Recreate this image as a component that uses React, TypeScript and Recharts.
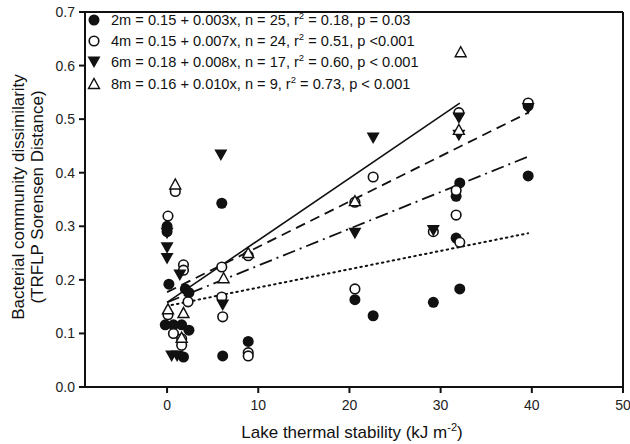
import {
  ScatterChart,
  Scatter,
  XAxis,
  YAxis,
  ReferenceLine
} from 'recharts';

// measured points, one array per sampling depth
const depth2m = [
  { x: 6.0, y: 0.343 }, { x: 0, y: 0.3 }, { x: 0, y: 0.29 }, { x: 0.2, y: 0.192 },
  { x: 2.0, y: 0.183 }, { x: 2.4, y: 0.176 }, { x: -0.2, y: 0.116 }, { x: 0.7, y: 0.116 },
  { x: 1.6, y: 0.116 }, { x: 2.4, y: 0.106 }, { x: 1.8, y: 0.056 }, { x: 6.1, y: 0.058 },
  { x: 8.9, y: 0.085 }, { x: 20.6, y: 0.163 }, { x: 22.6, y: 0.133 }, { x: 29.2, y: 0.158 },
  { x: 32.1, y: 0.381 }, { x: 31.7, y: 0.356 }, { x: 31.7, y: 0.278 }, { x: 32.1, y: 0.183 },
  { x: 39.6, y: 0.394 }, { x: 39.6, y: 0.525 }
];
const depth4m = [
  { x: 0.9, y: 0.365 }, { x: 0.1, y: 0.319 }, { x: 1.8, y: 0.228 }, { x: 1.8, y: 0.218 },
  { x: 2.3, y: 0.159 }, { x: 6.0, y: 0.224 }, { x: 8.9, y: 0.245 }, { x: 6.0, y: 0.168 },
  { x: 6.1, y: 0.131 }, { x: 8.9, y: 0.064 }, { x: 0.1, y: 0.135 }, { x: 0.7, y: 0.1 },
  { x: 1.6, y: 0.09 }, { x: 1.6, y: 0.078 }, { x: 22.6, y: 0.392 }, { x: 20.6, y: 0.345 },
  { x: 20.6, y: 0.183 }, { x: 29.2, y: 0.29 }, { x: 32.0, y: 0.512 }, { x: 31.7, y: 0.367 },
  { x: 31.7, y: 0.321 }, { x: 32.1, y: 0.27 }, { x: 39.6, y: 0.53 }, { x: 8.9, y: 0.058 }
];
const depth6m = [
  { x: 0, y: 0.287 }, { x: 0, y: 0.26 }, { x: 0, y: 0.24 }, { x: 1.4, y: 0.209 },
  { x: 6.1, y: 0.153 }, { x: 0.5, y: 0.058 }, { x: 1.1, y: 0.058 }, { x: 22.6, y: 0.465 },
  { x: 20.6, y: 0.287 }, { x: 29.2, y: 0.292 }, { x: 32.0, y: 0.502 }, { x: 32.0, y: 0.47 },
  { x: 39.6, y: 0.52 }, { x: 5.9, y: 0.433 }
];
const depth8m = [
  { x: 0.9, y: 0.378 }, { x: 6.2, y: 0.203 }, { x: 8.9, y: 0.25 }, { x: 0.1, y: 0.145 },
  { x: 1.8, y: 0.138 }, { x: 1.6, y: 0.092 }, { x: 20.6, y: 0.347 }, { x: 32.0, y: 0.48 },
  { x: 32.2, y: 0.625 }
];

// regression line end points
const fit2m = [{ x: 0.5, y: 0.153 }, { x: 39.6, y: 0.287 }];
const fit4m = [{ x: 0, y: 0.158 }, { x: 39.6, y: 0.43 }];
const fit6m = [{ x: 0, y: 0.177 }, { x: 39.6, y: 0.512 }];
const fit8m = [{ x: 0, y: 0.158 }, { x: 32.1, y: 0.53 }];

const xTicks = [0, 10, 20, 30, 40, 50];
const yTicks = [0, 0.1, 0.2, 0.3, 0.4, 0.5, 0.6, 0.7];

const legendDepths = ['2m', '4m', '6m', '8m'];
const legendEquations = ['0.15 + 0.003x', '0.15 + 0.007x', '0.18 + 0.008x', '0.16 + 0.010x'];
const legendN = ['25', '24', '17', '9'];
const legendR2 = ['0.18', '0.51', '0.60', '0.73'];
const legendP = ['p = 0.03', 'p <0.001', 'p < 0.001', 'p < 0.001'];

const FONT = '"Liberation Sans", Arial, sans-serif';
const INK = '#111';

const FilledCircle = (p: any) => <circle cx={p.cx} cy={p.cy} r={5.5} fill={INK} />;
const OpenCircle = (p: any) => (
  <circle cx={p.cx} cy={p.cy} r={4.8} fill="#fff" stroke={INK} strokeWidth={1.6} />
);
const DownTriangle = (p: any) => (
  <path d={`M${p.cx - 6.5},${p.cy - 5.5}L${p.cx + 6.5},${p.cy - 5.5}L${p.cx},${p.cy + 6}Z`} fill={INK} />
);
const UpTriangle = (p: any) => (
  <path
    d={`M${p.cx - 5.5},${p.cy + 4.5}L${p.cx + 5.5},${p.cy + 4.5}L${p.cx},${p.cy - 5.5}Z`}
    fill="#fff"
    stroke={INK}
    strokeWidth={1.4}
  />
);
const NoDot = () => <g />;

const symbols = [FilledCircle, OpenCircle, DownTriangle, UpTriangle];

function Legend() {
  return (
    <div style={{ position: 'absolute', left: 84, top: 9, fontFamily: FONT, fontSize: 14.6, color: INK }}>
      {legendDepths.map((d, i) => {
        const Sym = symbols[i];
        return (
          <div key={d} style={{ display: 'flex', alignItems: 'center', height: 21.4, whiteSpace: 'nowrap' }}>
            <svg width={22} height={16} style={{ marginRight: 5 }}>
              <Sym cx={10} cy={8} />
            </svg>
            <span>
              {d} = {legendEquations[i]}, n = {legendN[i]}, r
              <sup style={{ fontSize: 9.5, verticalAlign: 6, lineHeight: 0 }}>2</sup> = {legendR2[i]}, {legendP[i]}
            </span>
          </div>
        );
      })}
    </div>
  );
}

const XTitle = () => (
  <text x={352} y={438} textAnchor="middle" fontFamily={FONT} fontSize={17} fill={INK}>
    Lake thermal stability (kJ m
    <tspan dy={-7} fontSize={11}>-2</tspan>
    <tspan dy={7}>)</tspan>
  </text>
);

const YTitle = () => (
  <g fontFamily={FONT} fontSize={17} fill={INK}>
    <text transform="translate(24,197) rotate(-90)" textAnchor="middle">
      Bacterial community dissimilarity
    </text>
    <text transform="translate(43,197) rotate(-90)" textAnchor="middle">
      (TRFLP Sorensen Distance)
    </text>
  </g>
);

export default function App() {
  const tickStyle = { fontFamily: FONT, fontSize: 14, fill: '#222' };
  return (
    <div style={{ position: 'absolute', left: 0, top: 0, width: 630, height: 444, background: '#fff' }}>
      <ScatterChart width={630} height={444} margin={{ top: 12, right: 7, bottom: 0, left: 0 }}>
        <XAxis
          type="number"
          dataKey="x"
          domain={[-9, 50]}
          ticks={xTicks}
          allowDataOverflow
          height={57}
          stroke={INK}
          strokeWidth={2}
          tickSize={6}
          tickMargin={7}
          tick={tickStyle}
          label={{ content: XTitle }}
        />
        <YAxis
          type="number"
          dataKey="y"
          domain={[0, 0.7]}
          ticks={yTicks}
          allowDataOverflow
          width={85}
          stroke={INK}
          strokeWidth={2}
          tickSize={6}
          tickMargin={4}
          tick={tickStyle}
          tickFormatter={(v: number) => v.toFixed(1)}
          label={{ content: YTitle }}
        />
        <ReferenceLine y={0.7} stroke={INK} strokeWidth={2} />
        <ReferenceLine x={50} stroke={INK} strokeWidth={2} />

        <Scatter data={fit2m} shape={NoDot} line={{ stroke: INK, strokeWidth: 2, strokeDasharray: '1.5 4', strokeLinecap: 'round' }} isAnimationActive={false} />
        <Scatter data={fit4m} shape={NoDot} line={{ stroke: INK, strokeWidth: 1.8, strokeDasharray: '13 5 2 5' }} isAnimationActive={false} />
        <Scatter data={fit6m} shape={NoDot} line={{ stroke: INK, strokeWidth: 1.8, strokeDasharray: '10 6' }} isAnimationActive={false} />
        <Scatter data={fit8m} shape={NoDot} line={{ stroke: INK, strokeWidth: 1.6 }} isAnimationActive={false} />

        <Scatter data={depth2m} shape={FilledCircle} isAnimationActive={false} />
        <Scatter data={depth4m} shape={OpenCircle} isAnimationActive={false} />
        <Scatter data={depth6m} shape={DownTriangle} isAnimationActive={false} />
        <Scatter data={depth8m} shape={UpTriangle} isAnimationActive={false} />
      </ScatterChart>
      <Legend />
    </div>
  );
}
